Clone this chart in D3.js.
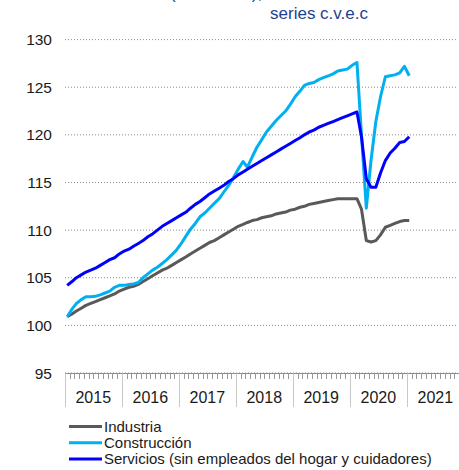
<!DOCTYPE html>
<html>
<head>
<meta charset="utf-8">
<script src="https://cdn.jsdelivr.net/npm/d3@7"></script>
<style>
  body { margin: 0; background: #fff; }
  svg text { font-family: "Liberation Sans", Arial, sans-serif; }
</style>
</head>
<body>
<div id="chart"></div>
<script>
// monthly data, Jan 2015 .. Jan 2021
var industria = [100.9,101.2,101.5,101.8,102.1,102.3,102.5,102.7,102.9,103.1,103.3,103.6,
  103.8,104.0,104.1,104.3,104.6,104.9,105.2,105.5,105.8,106.0,106.3,106.6,
  106.9,107.2,107.5,107.8,108.1,108.4,108.7,108.9,109.2,109.5,109.8,110.1,
  110.4,110.6,110.8,111.0,111.1,111.3,111.4,111.5,111.7,111.8,111.9,112.1,
  112.2,112.4,112.5,112.7,112.8,112.9,113.0,113.1,113.2,113.3,113.3,113.3,
  113.3,113.3,112.2,108.9,108.75,108.9,109.5,110.3,110.5,110.7,110.9,111.0,
  111.0];
var construccion = [100.9,101.7,102.3,102.7,103.0,103.0,103.05,103.2,103.4,103.6,104.0,104.2,
  104.2,104.3,104.35,104.5,105.0,105.4,105.8,106.1,106.5,106.9,107.4,107.9,
  108.6,109.4,110.1,110.7,111.4,111.8,112.3,112.8,113.3,114.0,114.7,115.5,
  116.4,117.2,116.6,117.7,118.7,119.5,120.3,120.9,121.5,122.0,122.5,123.2,
  124.0,124.6,125.2,125.4,125.5,125.8,126.0,126.2,126.4,126.7,126.8,126.9,
  127.3,127.6,120.0,112.3,117.3,121.4,124.0,126.1,126.2,126.3,126.5,127.2,
  126.2];
var servicios = [104.2,104.6,105.0,105.3,105.6,105.8,106.0,106.3,106.6,106.9,107.1,107.5,
  107.8,108.0,108.3,108.6,108.9,109.3,109.6,110.0,110.4,110.7,111.0,111.3,
  111.6,111.9,112.3,112.7,113.0,113.4,113.8,114.1,114.4,114.7,115.1,115.4,
  115.8,116.1,116.4,116.7,117.0,117.3,117.6,117.9,118.2,118.5,118.8,119.1,
  119.4,119.7,120.0,120.3,120.5,120.8,121.0,121.2,121.4,121.6,121.8,122.0,
  122.2,122.4,119.8,115.4,114.5,114.5,116.0,117.3,118.1,118.6,119.2,119.3,
  119.8];
var years = [2015, 2016, 2017, 2018, 2019, 2020, 2021];
var yTicks = [95, 100, 105, 110, 115, 120, 125, 130];
var seriesNames = ["Industria", "Construcción", "Servicios (sin empleados del hogar y cuidadores)"];
var seriesColors = ["#595959", "#00b0f0", "#0000ff"];

var months = d3.timeMonth.range(new Date(2015, 0, 1), new Date(2021, 1, 1));

var W = 459, H = 470;
var svg = d3.select("#chart").append("svg").attr("width", W).attr("height", H);

var x = d3.scaleTime().domain([new Date(2015, 0, 1), new Date(2022, 0, 1)]).range([65, 464]);
var y = d3.scaleLinear().domain([95, 130]).range([373, 39.6]);

// title (partly cut off at the top, as in the original)
svg.append("text").attr("x", 170).attr("y", -1).attr("font-size", 17).attr("fill", "#1f3f8f")
  .text("(2015=100),");
svg.append("text").attr("x", 319).attr("y", 19).attr("text-anchor", "middle")
  .attr("font-size", 17).attr("fill", "#1f3f8f").text("series c.v.e.c");

// grid
svg.append("g").selectAll("line").data(yTicks).join("line")
  .attr("x1", 65).attr("x2", 457)
  .attr("y1", d => y(d)).attr("y2", d => y(d))
  .attr("stroke", "#8c8c8c").attr("stroke-width", 1).attr("stroke-dasharray", "1,2");

// y labels
svg.append("g").selectAll("text").data(yTicks).join("text")
  .attr("x", 52).attr("y", d => y(d) + 5.5).attr("text-anchor", "end")
  .attr("font-size", 15.5).attr("fill", "#1a1a1a").text(d => d);

// x axis: month ticks, year separators, year labels
var xg = svg.append("g");
xg.append("line").attr("x1", 65).attr("x2", 459).attr("y1", 373.5).attr("y2", 373.5)
  .attr("stroke", "#8c8c8c");
xg.selectAll("line.m").data(d3.timeMonth.range(new Date(2015, 0, 1), new Date(2022, 0, 1))).join("line")
  .attr("class", "m")
  .attr("x1", d => Math.round(x(d)) + 0.5).attr("x2", d => Math.round(x(d)) + 0.5)
  .attr("y1", 373.5).attr("y2", 379)
  .attr("stroke", "#9a9a9a").attr("stroke-width", 1);
xg.selectAll("line.yr").data(years.concat([2022])).join("line")
  .attr("class", "yr")
  .attr("x1", d => Math.round(x(new Date(d, 0, 1))) + 0.5).attr("x2", d => Math.round(x(new Date(d, 0, 1))) + 0.5)
  .attr("y1", 373.5).attr("y2", 407)
  .attr("stroke", "#c8c8c8").attr("stroke-width", 1);
xg.selectAll("text").data(years).join("text")
  .attr("x", d => x(new Date(d, 6, 1))).attr("y", 403).attr("text-anchor", "middle")
  .attr("font-size", 16).attr("fill", "#1a1a1a").text(d => d);

// lines
var line = d3.line()
  .x((d, i) => x(d3.timeDay.offset(months[i], 14)))
  .y(d => y(d));
[industria, construccion, servicios].forEach(function (s, k) {
  svg.append("path").datum(s)
    .attr("d", line)
    .attr("fill", "none")
    .attr("stroke", seriesColors[k])
    .attr("stroke-width", 3)
    .attr("stroke-linejoin", "round");
});

// legend
var lg = svg.append("g").selectAll("g").data(seriesNames).join("g")
  .attr("transform", (d, i) => "translate(0," + (426.5 + i * 16.3) + ")");
lg.append("line").attr("x1", 69).attr("x2", 102).attr("y1", 0).attr("y2", 0)
  .attr("stroke", (d, i) => seriesColors[i]).attr("stroke-width", 3);
lg.append("text").attr("x", 104).attr("y", 5.3).attr("font-size", 15).attr("fill", "#1a1a1a")
  .text(d => d);
</script>
</body>
</html>
